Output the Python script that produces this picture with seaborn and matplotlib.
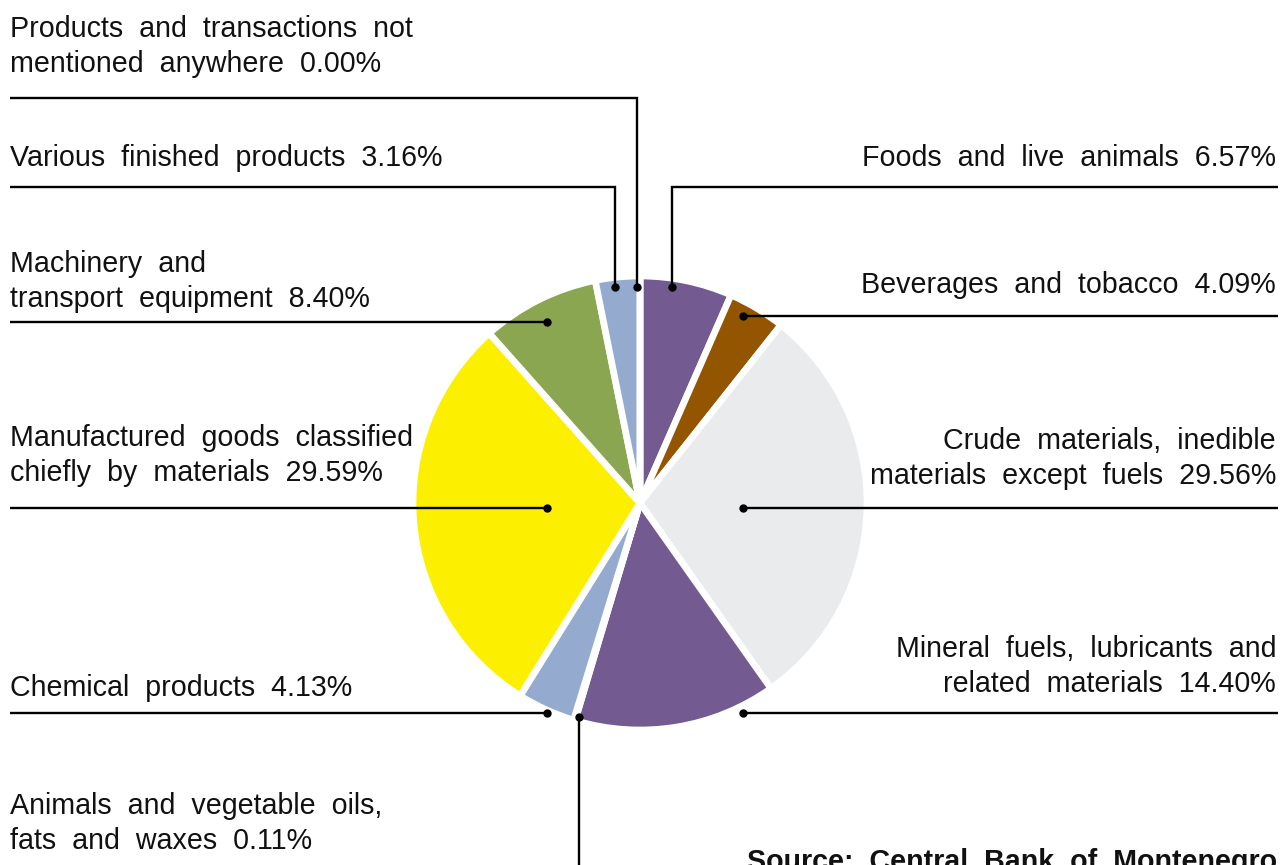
import matplotlib
matplotlib.use("Agg")
import matplotlib.pyplot as plt
import seaborn as sns

# Export structure by product group (shares in %)
categories = [
    "Foods and live animals",
    "Beverages and tobacco",
    "Crude materials, inedible\nmaterials except fuels",
    "Mineral fuels, lubricants and\nrelated materials",
    "Animals and vegetable oils,\nfats and waxes",
    "Chemical products",
    "Manufactured goods classified\nchiefly by materials",
    "Machinery and\ntransport equipment",
    "Various finished products",
    "Products and transactions not\nmentioned anywhere",
]
shares = [6.57, 4.09, 29.56, 14.40, 0.11, 4.13, 29.59, 8.40, 3.16, 0.00]
colors = ["#735a90", "#945500", "#eaebed", "#735a90", "#95aacf",
          "#95aacf", "#fcef00", "#8aa650", "#95aacf", "#95aacf"]
source_note = "Source: Central Bank of Montenegro"

W, H = 1282, 865

sns.set_theme(style="white")
plt.rcParams["font.family"] = ["Liberation Sans", "DejaVu Sans"]

fig = plt.figure(figsize=(W / 100, H / 100), dpi=100)
ax = fig.add_axes([0, 0, 1, 1])


def Y(y):
    """Convert a top-down pixel row into the axes' upward y coordinate."""
    return H - y


ax.pie(shares, colors=colors, startangle=90, counterclock=False,
       center=(640, Y(503)), radius=227,
       wedgeprops=dict(edgecolor="white", linewidth=4.8))

ax.set_xlim(0, W)
ax.set_ylim(0, H)
ax.set_aspect("equal")
ax.axis("off")

# label placement: side, baseline of first line, leader polyline (last point = anchor dot)
layout = [
    ("right", 166, [(1278, 187), (672, 187), (672, 287)]),
    ("right", 293, [(1278, 316), (743, 316)]),
    ("right", 449, [(1278, 508), (743, 508)]),
    ("right", 657, [(1278, 713), (743, 713)]),
    ("left", 814, [(579, 875), (579, 717)]),
    ("left", 696, [(10, 713), (547, 713)]),
    ("left", 446, [(10, 508), (547, 508)]),
    ("left", 272, [(10, 322), (547, 322)]),
    ("left", 166, [(10, 187), (615, 187), (615, 287)]),
    ("left", 37, [(10, 98), (637, 98), (637, 287)]),
]

LINE_PITCH = 35
FS = 20.6

for name, val, (side, base, path) in zip(categories, shares, layout):
    text = f"{name} {val:.2f}%"
    lines = text.split("\n")
    for i, line in enumerate(lines):
        s = line.replace(" ", "  ")
        if side == "left":
            ax.text(10, Y(base + i * LINE_PITCH), s, ha="left", va="baseline",
                    fontsize=FS, color="#111111")
        else:
            ax.text(1276, Y(base + i * LINE_PITCH), s, ha="right", va="baseline",
                    fontsize=FS, color="#111111")
    xs = [p[0] for p in path]
    ys = [Y(p[1]) for p in path]
    ax.plot(xs, ys, color="black", linewidth=1.7, solid_capstyle="butt",
            solid_joinstyle="miter", clip_on=False)
    ax.plot([xs[-1]], [ys[-1]], "o", color="black", markersize=5, clip_on=False)

ax.text(747, Y(870), source_note.replace(" ", "  "), ha="left", va="baseline",
        fontsize=FS, fontweight="bold", color="#111111")

fig.savefig("out.png", dpi=100)
